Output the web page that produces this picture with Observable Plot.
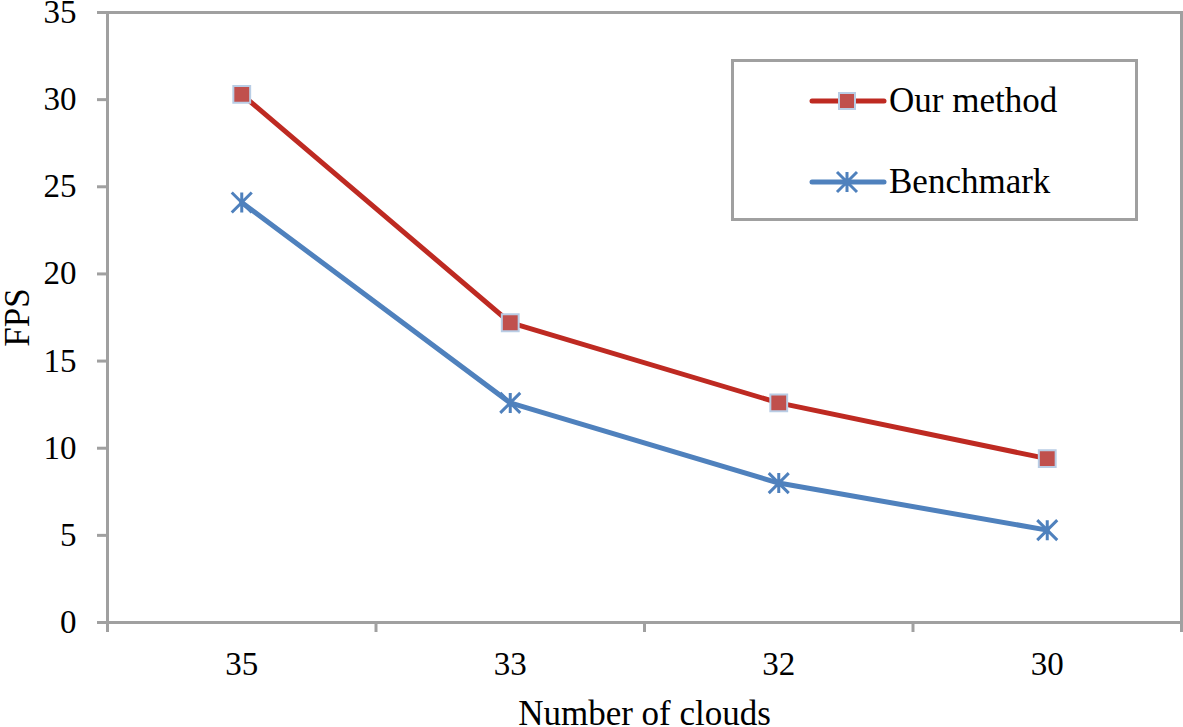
<!DOCTYPE html>
<html><head>
<meta charset="utf-8">
<script src="https://cdn.jsdelivr.net/npm/d3@7"></script>
<script src="https://cdn.jsdelivr.net/npm/@observablehq/plot@0.6"></script>
<style>
body{margin:0;background:#fff}
#wrap{position:relative;width:1183px;height:727px;font-family:"Liberation Serif","Times New Roman",serif}
#wrap svg{overflow:visible}
#legend{position:absolute;left:731px;top:59px;width:407px;height:162px;border:3px solid #a0a0a0;box-sizing:border-box;background:#fff}
.lrow{position:absolute;left:76px;display:flex;align-items:center;font-size:35px;color:#000}
.lrow svg{margin-right:3px}
</style>
</head><body>
<div id="wrap"></div>
<script>
const categories = ["35", "33", "32", "30"];
const ourMethod = [30.3, 17.2, 12.6, 9.4];
const benchmark = [24.1, 12.6, 8.0, 5.3];
const yTicks = [0, 5, 10, 15, 20, 25, 30, 35];
const seriesNames = ["Our method", "Benchmark"];
const xTitle = "Number of clouds";
const yTitle = "FPS";

const redLine = "#be2a22", redFill = "#c0504d", markerEdge = "#b9cde5", blue = "#4f81bd", grey = "#a0a0a0";
const font = "Liberation Serif, Times New Roman, serif";

const rows = [];
categories.forEach((c, i) => {
  rows.push({i, cat: c, value: ourMethod[i], series: seriesNames[0]});
  rows.push({i, cat: c, value: benchmark[i], series: seriesNames[1]});
});
const ours = rows.filter(d => d.series === seriesNames[0]);
const bench = rows.filter(d => d.series === seriesNames[1]);
const boundaries = d3.range(categories.length + 1).map(k => k - 0.5);

const starSymbol = {
  draw(context, size) {
    const r = Math.sqrt(size / Math.PI);
    context.moveTo(0, -r); context.lineTo(0, r);
    context.moveTo(-r, -r); context.lineTo(r, r);
    context.moveTo(-r, r); context.lineTo(r, -r);
  }
};

const chart = Plot.plot({
  width: 1183,
  height: 727,
  marginLeft: 107,
  marginRight: 2,
  marginTop: 12,
  marginBottom: 105,
  style: {fontFamily: font, fontSize: "33px", background: "#fff", color: "#000", overflow: "visible"},
  x: {type: "linear", domain: [-0.5, categories.length - 0.5]},
  y: {domain: [0, 35]},
  marks: [
    Plot.frame({stroke: grey, strokeWidth: 3}),
    Plot.axisY({ticks: yTicks, tickSize: 10, tickPadding: 21, stroke: grey, strokeWidth: 3, fill: "#000", fontSize: 33, label: null}),
    Plot.axisX({ticks: boundaries, tickSize: 10, tickFormat: () => "", stroke: grey, strokeWidth: 3, label: null}),
    Plot.axisX({ticks: d3.range(categories.length), tickSize: 0, tickPadding: 29, tickFormat: i => categories[i], fill: "#000", fontSize: 33, label: null}),
    Plot.text([yTitle], {frameAnchor: "left", textAnchor: "middle", lineAnchor: "middle", dx: -90, rotate: -90, fontSize: 35, fill: "#000"}),
    Plot.text([xTitle], {frameAnchor: "bottom", textAnchor: "middle", lineAnchor: "middle", dy: 91, fontSize: 35, fill: "#000"}),
    Plot.line(ours, {x: "i", y: "value", stroke: redLine, strokeWidth: 5}),
    Plot.line(bench, {x: "i", y: "value", stroke: blue, strokeWidth: 5}),
    Plot.dot(ours, {x: "i", y: "value", symbol: "square", r: 9.5, fill: redFill, stroke: markerEdge, strokeWidth: 2}),
    Plot.dot(bench, {x: "i", y: "value", symbol: starSymbol, r: 10, fill: "none", stroke: blue, strokeWidth: 3})
  ]
});

const wrap = document.getElementById("wrap");
wrap.appendChild(chart);

const legend = document.createElement("div");
legend.id = "legend";
const mk = (name, top, kind) => {
  const row = document.createElement("div");
  row.className = "lrow";
  row.style.top = (top - 20) + "px";
  const color = kind === "square" ? redLine : blue;
  let marker;
  if (kind === "square") {
    marker = `<rect x="29" y="12" width="16" height="16" fill="${redFill}" stroke="${markerEdge}" stroke-width="2"/>`;
  } else {
    marker = `<path d="M37,10V30M27,10L47,30M27,30L47,10" stroke="${blue}" stroke-width="3" fill="none"/>`;
  }
  row.innerHTML = `<svg width="76" height="40"><line x1="2" y1="20" x2="74" y2="20" stroke="${color}" stroke-width="5" stroke-linecap="round"/>${marker}</svg><span>${name}</span>`;
  legend.appendChild(row);
};
mk(seriesNames[0], 39, "square");
mk(seriesNames[1], 120, "star");
wrap.appendChild(legend);
</script>
</body></html>
